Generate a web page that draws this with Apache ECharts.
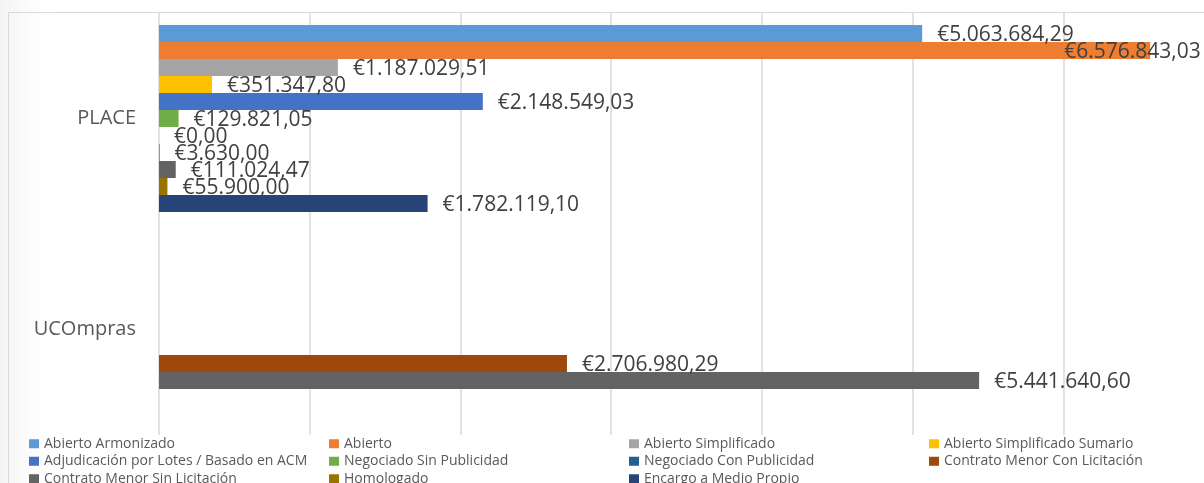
<!DOCTYPE html>
<html>
<head>
<meta charset="utf-8">
<script src="https://cdn.jsdelivr.net/npm/echarts@6/dist/echarts.min.js"></script>
<style>
  html, body { margin: 0; padding: 0; background: #fff; }
  #main { width: 1204px; height: 483px; }
</style>
</head>
<body>
<div id="main"></div>
<script>
// categories (top to bottom)
const categories = ["PLACE", "UCOmpras"];

// series names, in legend order
const seriesNames = [
  "Abierto Armonizado",
  "Abierto",
  "Abierto Simplificado",
  "Abierto Simplificado Sumario",
  "Adjudicación por Lotes / Basado en ACM",
  "Negociado Sin Publicidad",
  "Negociado Con Publicidad",
  "Contrato Menor Con Licitación",
  "Contrato Menor Sin Licitación",
  "Homologado",
  "Encargo a Medio Propio"
];

// values per series: [PLACE, UCOmpras]
const abiertoArmonizado = [5063684.29, null];
const abierto = [6576843.03, null];
const abiertoSimplificado = [1187029.51, null];
const abiertoSimplificadoSumario = [351347.80, null];
const adjudicacionLotes = [2148549.03, null];
const negociadoSinPublicidad = [129821.05, null];
const negociadoConPublicidad = [0, null];
const contratoMenorConLicitacion = [3630.00, 2706980.29];
const contratoMenorSinLicitacion = [111024.47, 5441640.60];
const homologado = [55900.00, null];
const encargoMedioPropio = [1782119.10, null];

const seriesValues = [
  abiertoArmonizado, abierto, abiertoSimplificado, abiertoSimplificadoSumario,
  adjudicacionLotes, negociadoSinPublicidad, negociadoConPublicidad,
  contratoMenorConLicitacion, contratoMenorSinLicitacion, homologado, encargoMedioPropio
];

const colors = [
  "#5B9BD5", "#ED7D31", "#A5A5A5", "#FFC000", "#4472C4", "#70AD47",
  "#255E91", "#9E480E", "#636363", "#997300", "#264478"
];

// €1.234.567,89
function euro(v) {
  const parts = Number(v).toFixed(2).split(".");
  const intPart = parts[0].replace(/\B(?=(\d{3})+(?!\d))/g, ".");
  return "€" + intPart + "," + parts[1];
}

const chart = echarts.init(document.getElementById("main"));

const series = seriesNames.map(function (name, i) {
  const data = seriesValues[i].map(function (v, j) {
    if (v === null) return "-";
    // Abierto label is pulled back inside the chart area, as in the original
    if (i === 1 && j === 0) {
      return { value: v, label: { offset: [-101, 2] } };
    }
    return v;
  });
  return {
    name: name,
    type: "bar",
    barWidth: 17,
    barGap: "0%",
    itemStyle: { color: colors[i] },
    label: {
      show: true,
      position: "right",
      distance: 15,
      offset: [0, 2],
      color: "#404040",
      fontFamily: "Open Sans",
      fontSize: 21,
      formatter: function (p) { return euro(p.value); }
    },
    data: data
  };
});

const option = {
  animation: false,
  backgroundColor: "#ffffff",
  color: colors,
  graphic: [
    {
      type: "rect",
      silent: true,
      z: -10,
      shape: { x: 0, y: 0, width: 60, height: 483 },
      style: {
        fill: new echarts.graphic.LinearGradient(0, 0, 1, 0, [
          { offset: 0, color: "rgba(235,235,235,0.6)" },
          { offset: 1, color: "rgba(255,255,255,0)" }
        ])
      }
    },
    {
      type: "rect",
      silent: true,
      z: -5,
      shape: { x: 8.5, y: 12.5, width: 1300, height: 600 },
      style: { fill: "none", stroke: "#D9D9D9", lineWidth: 1 }
    }
  ],
  grid: {
    left: 159,
    top: 13,
    width: 1055,
    bottom: 48,
    containLabel: false,
    outerBoundsMode: "none"
  },
  legend: {
    data: seriesNames,
    left: 29,
    top: 435,
    width: 1240,
    padding: 0,
    orient: "horizontal",
    icon: "rect",
    itemWidth: 10,
    itemHeight: 9,
    itemGap: 0,
    textStyle: {
      color: "#595959",
      fontFamily: "Open Sans",
      fontSize: 14,
      width: 285,
      lineHeight: 17.5,
      overflow: "truncate"
    }
  },
  xAxis: {
    type: "value",
    min: 0,
    max: 7000000,
    interval: 1000000,
    axisLabel: { show: false },
    axisLine: { show: false },
    axisTick: { show: false },
    splitLine: { show: true, lineStyle: { color: "#D9D9D9", width: 1.5 } }
  },
  yAxis: {
    type: "category",
    data: categories,
    inverse: true,
    axisLine: { show: false },
    axisTick: { show: false },
    axisLabel: {
      color: "#595959",
      fontFamily: "Open Sans",
      fontSize: 20,
      margin: 23
    }
  },
  series: series
};

chart.setOption(option);
</script>
</body>
</html>
